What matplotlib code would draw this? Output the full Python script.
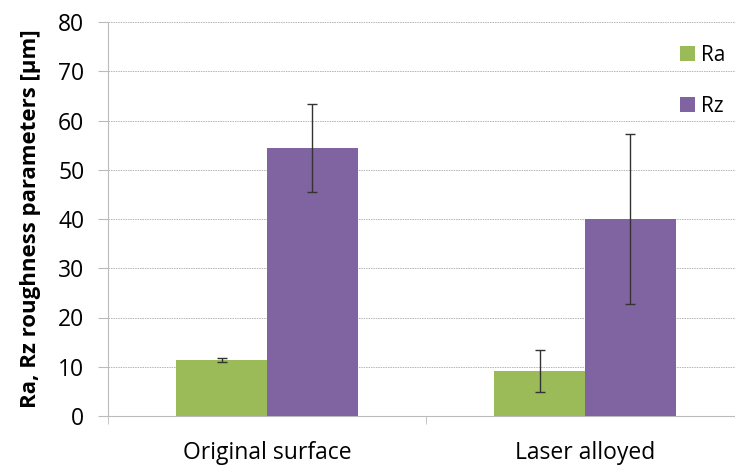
import numpy as np
import matplotlib.pyplot as plt

plt.rcParams['font.family'] = ['Open Sans', 'DejaVu Sans']

categories = ['Original surface', 'Laser alloyed']
ra = [11.4, 9.1]
ra_err = [0.4, 4.2]
rz = [54.4, 40.0]
rz_err = [9.0, 17.3]

fig = plt.figure(figsize=(7.35, 4.66), dpi=100)
ax = fig.add_axes([108/735, 50/466, 636/735, 394/466])

x = np.arange(len(categories))
w = 0.286
ax.bar(x - w/2, ra, w, color='#9BBB59', label='Ra', zorder=3)
ax.bar(x + w/2, rz, w, color='#8064A2', label='Rz', zorder=3)
ax.errorbar(x - w/2, ra, yerr=ra_err, fmt='none', ecolor='#333333', elinewidth=1, capsize=3.5, capthick=1, zorder=4)
ax.errorbar(x + w/2, rz, yerr=rz_err, fmt='none', ecolor='#333333', elinewidth=1, capsize=3.5, capthick=1, zorder=4)

ax.set_xlim(-0.5, 1.5)
ax.set_ylim(0, 80)
ax.set_yticks(range(0, 81, 10))
ax.tick_params(axis='y', labelsize=16.5, length=7, color='#bbbbbb', direction='out', pad=10)
ax.set_xticks(x)
ax.set_xticklabels(categories, fontsize=16.5)
ax.tick_params(axis='x', length=0, pad=18)
ax.set_xticks([-0.5, 0.5, 1.5], minor=True)
ax.tick_params(axis='x', which='minor', length=6, color='#bbbbbb')

ax.yaxis.grid(True, linestyle=(0, (1.5, 1)), color='#b5b5b5', linewidth=0.7, zorder=0)
for s in ['top', 'right']:
    ax.spines[s].set_visible(False)
ax.spines['left'].set_color('#bbbbbb')
ax.spines['bottom'].set_color('#bbbbbb')

ax.set_ylabel('Ra, Rz roughness parameters [µm]', fontsize=16, fontweight='bold', labelpad=12)

ax.legend(loc='upper right', bbox_to_anchor=(1.0, 0.99), frameon=False, fontsize=15,
          handlelength=0.7, handleheight=0.7, labelspacing=1.45, handletextpad=0.3)

fig.savefig('out.png', dpi=100)
